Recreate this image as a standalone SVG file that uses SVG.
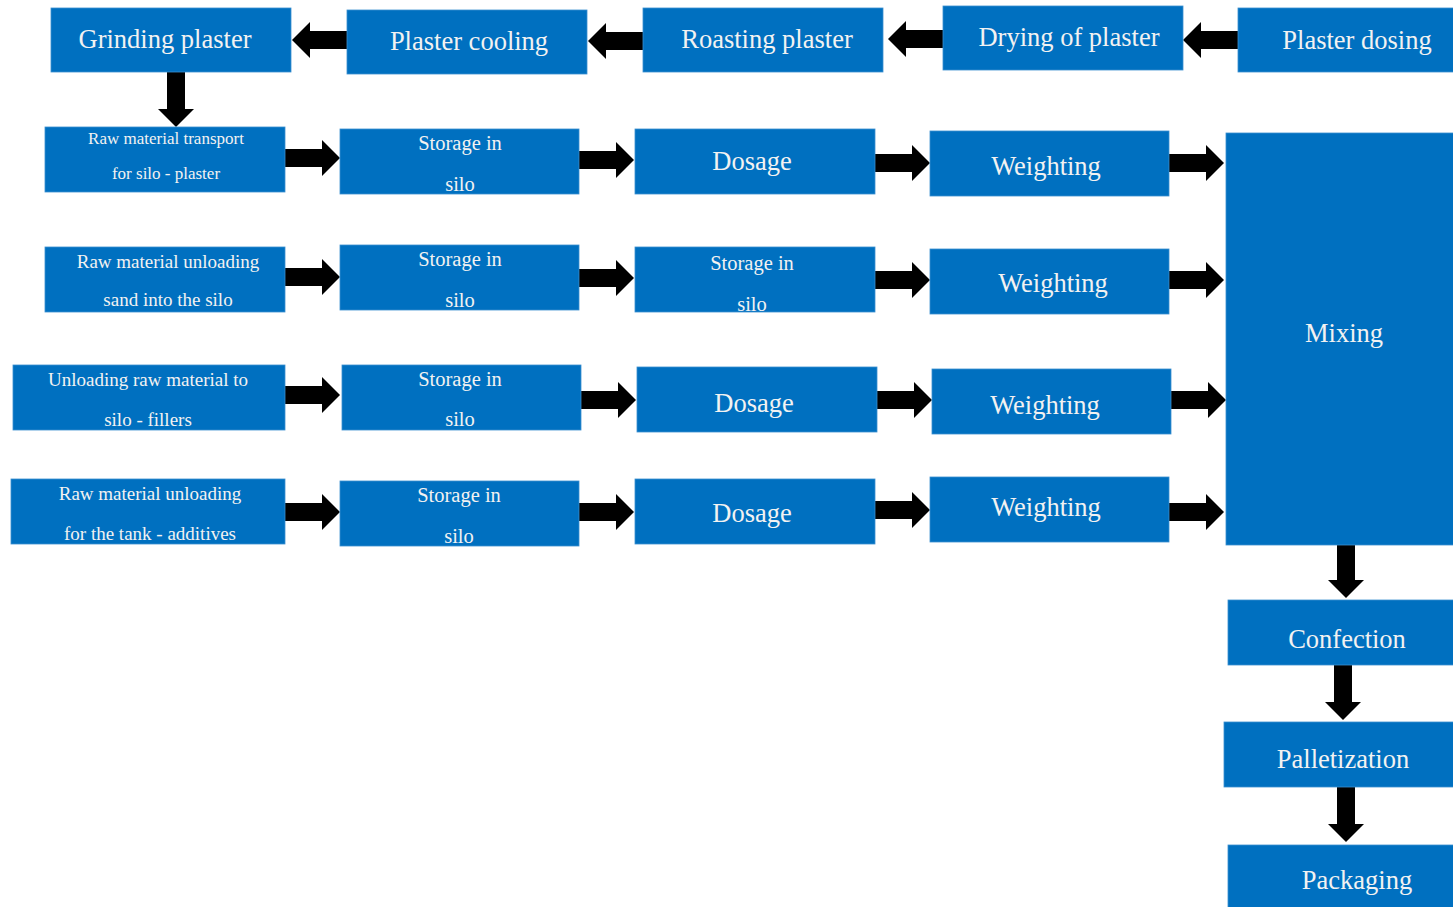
<svg xmlns="http://www.w3.org/2000/svg" width="1453" height="907" viewBox="0 0 1453 907">
<style>
.box{fill:#0070C0;stroke:#3a8fd0;stroke-width:0.8}
.t{font-family:"Liberation Serif","Times New Roman",serif;fill:#f2f2f2;text-anchor:middle;dominant-baseline:central}
.l{font-size:26.5px}
.st{font-size:20.5px}
.s{font-size:19px}
.xs{font-size:17px}
.arr{fill:#000}
</style>
<defs>
<path id="ar" d="M0,-9 H37 V-18 L55,0 L37,18 V9 H0 Z"/>
</defs>
<rect width="1453" height="907" fill="#fff"/>
<g id="connectors" class="arr">
<use href="#ar" transform="translate(347,40) rotate(180)"/>
<use href="#ar" transform="translate(643,41) rotate(180)"/>
<use href="#ar" transform="translate(943,39) rotate(180)"/>
<use href="#ar" transform="translate(1238,40) rotate(180)"/>
<use href="#ar" transform="translate(176,72) rotate(90)"/>
<use href="#ar" transform="translate(285,158)"/>
<use href="#ar" transform="translate(579,160)"/>
<use href="#ar" transform="translate(875,163)"/>
<use href="#ar" transform="translate(1169,163)"/>
<use href="#ar" transform="translate(285,277)"/>
<use href="#ar" transform="translate(579,278)"/>
<use href="#ar" transform="translate(875,280)"/>
<use href="#ar" transform="translate(1169,280)"/>
<use href="#ar" transform="translate(285,395)"/>
<use href="#ar" transform="translate(581,400)"/>
<use href="#ar" transform="translate(877,400)"/>
<use href="#ar" transform="translate(1171,400)"/>
<use href="#ar" transform="translate(285,512)"/>
<use href="#ar" transform="translate(579,512)"/>
<use href="#ar" transform="translate(875,510)"/>
<use href="#ar" transform="translate(1169,512)"/>
<use href="#ar" transform="translate(1346,543) rotate(90)"/>
<use href="#ar" transform="translate(1343,665) rotate(90)"/>
<use href="#ar" transform="translate(1346,787) rotate(90)"/>
</g>
<g id="grinding"><rect class="box" x="51" y="8" width="240" height="64"/><text class="t l" x="165" y="39">Grinding plaster</text></g>
<g id="cooling"><rect class="box" x="347" y="10" width="240" height="64"/><text class="t l" x="469" y="41">Plaster cooling</text></g>
<g id="roasting"><rect class="box" x="643" y="8" width="240" height="64"/><text class="t l" x="767" y="39">Roasting plaster</text></g>
<g id="drying"><rect class="box" x="943" y="6" width="240" height="64"/><text class="t l" x="1069" y="37">Drying of plaster</text></g>
<g id="dosing"><rect class="box" x="1238" y="8" width="220" height="64"/><text class="t l" x="1357" y="40">Plaster dosing</text></g>

<g id="r1a"><rect class="box" x="45" y="127" width="240" height="65"/><text class="t xs" x="166" y="138">Raw material transport</text><text class="t xs" x="166" y="173">for silo - plaster</text></g>
<g id="r1b"><rect class="box" x="340" y="129" width="239" height="65"/><text class="t st" x="460" y="143">Storage in</text><text class="t st" x="460" y="184">silo</text></g>
<g id="r1c"><rect class="box" x="635" y="129" width="240" height="65"/><text class="t l" x="752" y="161">Dosage</text></g>
<g id="r1d"><rect class="box" x="930" y="131" width="239" height="65"/><text class="t l" x="1046" y="166">Weighting</text></g>

<g id="mixing"><rect class="box" x="1226" y="133" width="232" height="412"/><text class="t l" x="1344" y="333">Mixing</text></g>

<g id="r2a"><rect class="box" x="45" y="247" width="240" height="65"/><text class="t s" x="168" y="261">Raw material unloading</text><text class="t s" x="168" y="299">sand into the silo</text></g>
<g id="r2b"><rect class="box" x="340" y="245" width="239" height="65"/><text class="t st" x="460" y="259">Storage in</text><text class="t st" x="460" y="300">silo</text></g>
<g id="r2c"><rect class="box" x="635" y="247" width="240" height="65"/><text class="t st" x="752" y="263">Storage in</text><text class="t st" x="752" y="304">silo</text></g>
<g id="r2d"><rect class="box" x="930" y="249" width="239" height="65"/><text class="t l" x="1053" y="283">Weighting</text></g>

<g id="r3a"><rect class="box" x="13" y="365" width="272" height="65"/><text class="t s" x="148" y="379">Unloading raw material to</text><text class="t s" x="148" y="419">silo - fillers</text></g>
<g id="r3b"><rect class="box" x="342" y="365" width="239" height="65"/><text class="t st" x="460" y="379">Storage in</text><text class="t st" x="460" y="419">silo</text></g>
<g id="r3c"><rect class="box" x="637" y="367" width="240" height="65"/><text class="t l" x="754" y="403">Dosage</text></g>
<g id="r3d"><rect class="box" x="932" y="369" width="239" height="65"/><text class="t l" x="1045" y="405">Weighting</text></g>

<g id="r4a"><rect class="box" x="11" y="479" width="274" height="65"/><text class="t s" x="150" y="493">Raw material unloading</text><text class="t s" x="150" y="533">for the tank - additives</text></g>
<g id="r4b"><rect class="box" x="340" y="481" width="239" height="65"/><text class="t st" x="459" y="495">Storage in</text><text class="t st" x="459" y="536">silo</text></g>
<g id="r4c"><rect class="box" x="635" y="479" width="240" height="65"/><text class="t l" x="752" y="513">Dosage</text></g>
<g id="r4d"><rect class="box" x="930" y="477" width="239" height="65"/><text class="t l" x="1046" y="507">Weighting</text></g>

<g id="confection"><rect class="box" x="1228" y="600" width="230" height="65"/><text class="t l" x="1347" y="639">Confection</text></g>
<g id="palletization"><rect class="box" x="1224" y="722" width="234" height="65"/><text class="t l" x="1343" y="759">Palletization</text></g>
<g id="packaging"><rect class="box" x="1228" y="845" width="230" height="70"/><text class="t l" x="1357" y="880">Packaging</text></g>
</svg>
